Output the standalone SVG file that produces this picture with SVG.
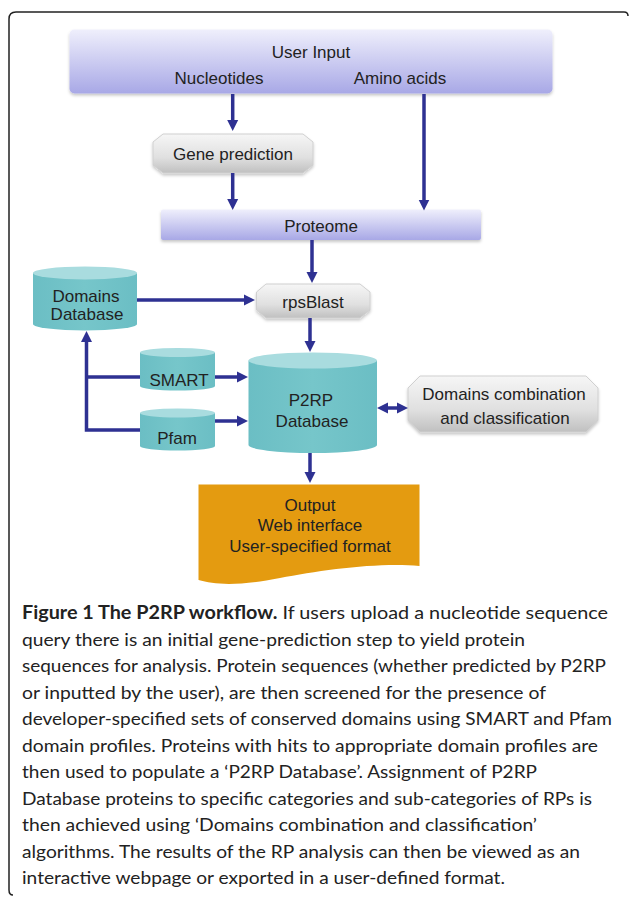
<svg xmlns="http://www.w3.org/2000/svg" width="629" height="898" viewBox="0 0 629 898">
<defs>
<style>
.lbl{font-family:"Liberation Sans",Arial,sans-serif;font-size:17px;fill:#222;text-anchor:middle}
.cap{font-family:Lato,"Open Sans",sans-serif;font-size:18px;fill:#222}
.con{fill:none;stroke:#2e3192;stroke-width:3.5}
.body{fill:url(#teal)}
.top{fill:#a9dcdf}
</style>
<linearGradient id="lav" x1="0" y1="0" x2="0" y2="1"><stop offset="0" stop-color="#efeffc"/><stop offset="1" stop-color="#a8a8e6"/></linearGradient>
<linearGradient id="gray" x1="0" y1="0" x2="0" y2="1"><stop offset="0" stop-color="#f6f6f6"/><stop offset="0.6" stop-color="#e0e0e0"/><stop offset="1" stop-color="#c0c0c0"/></linearGradient>
<linearGradient id="teal" x1="0" y1="0" x2="1" y2="0"><stop offset="0" stop-color="#6bbec4"/><stop offset="0.5" stop-color="#76c6ca"/><stop offset="1" stop-color="#6bbec4"/></linearGradient>
<filter id="sh" x="-10%" y="-20%" width="120%" height="150%"><feDropShadow dx="0" dy="2" stdDeviation="1.5" flood-color="#000" flood-opacity="0.22"/></filter>
<marker id="ah" markerUnits="userSpaceOnUse" markerWidth="12" markerHeight="12" viewBox="0 0 12 12" refX="5" refY="6" orient="auto-start-reverse"><path d="M0,0.5 L11,6 L0,11.5 z" fill="#2e3192"/></marker>
</defs>

<path id="frame" d="M13,895 Q9,895 9,890 L9,19 Q9,12 16,12 L624,12 Q628,12 628,16" fill="none" stroke="#222" stroke-width="1.5"/>

<g id="user-input">
<rect x="69.5" y="29.5" width="483" height="64" rx="5" fill="url(#lav)" filter="url(#sh)"/>
<text class="lbl" x="311" y="58">User Input</text>
<text class="lbl" x="219" y="83.5">Nucleotides</text>
<text class="lbl" x="400" y="83.5">Amino acids</text>
</g>

<g id="gene-prediction">
<path d="M163,134 L303,134 L313,142 L313,165 L303,173 L163,173 L153,165 L153,142 Z" fill="url(#gray)" stroke="#d0d0d0" stroke-width="1" stroke-linejoin="round" filter="url(#sh)"/>
<text class="lbl" x="233" y="159.5" font-size="16">Gene prediction</text>
</g>

<g id="proteome">
<rect x="161" y="209.5" width="320" height="30.5" rx="2" fill="url(#lav)" filter="url(#sh)"/>
<text class="lbl" x="321" y="231.5">Proteome</text>
</g>

<g id="rpsblast">
<path d="M266,284 L360,284 L370,292 L370,310 L360,318 L266,318 L256.5,310 L256.5,292 Z" fill="url(#gray)" stroke="#d0d0d0" stroke-width="1" stroke-linejoin="round" filter="url(#sh)"/>
<text class="lbl" x="313" y="307.5">rpsBlast</text>
</g>

<g id="domains-database">
<path class="body" d="M33,273 L33,324 A52,6.5 0 0 0 137,324 L137,273 Z"/>
<ellipse class="top" cx="85" cy="273" rx="52" ry="6.5"/>
<text class="lbl" x="86" y="302">Domains</text>
<text class="lbl" x="87" y="320">Database</text>
</g>

<g id="smart">
<path class="body" d="M140,352.5 L140,386 A37.5,4.5 0 0 0 215,386 L215,352.5 Z"/>
<ellipse class="top" cx="177.5" cy="352.5" rx="37.5" ry="4.5"/>
<text class="lbl" x="179" y="385.5">SMART</text>
</g>

<g id="pfam">
<path class="body" d="M140,413 L140,446 A37.5,4.5 0 0 0 215,446 L215,413 Z"/>
<ellipse class="top" cx="177.5" cy="413" rx="37.5" ry="4.5"/>
<text class="lbl" x="177" y="444">Pfam</text>
</g>

<g id="p2rp-database">
<path class="body" d="M248.5,360.5 L248.5,445 A64.25,8 0 0 0 377,445 L377,360.5 Z"/>
<ellipse class="top" cx="312.75" cy="360.5" rx="64.25" ry="8"/>
<text class="lbl" x="311" y="406">P2RP</text>
<text class="lbl" x="312" y="427">Database</text>
</g>

<g id="domains-combination">
<path d="M420,376 L586,376 L598,388 L598,420 L586,432 L420,432 L408,420 L408,388 Z" fill="url(#gray)" stroke="#d0d0d0" stroke-width="1" stroke-linejoin="round" filter="url(#sh)"/>
<text class="lbl" x="504" y="400" font-size="16.5">Domains combination</text>
<text class="lbl" x="505" y="424" font-size="16.5">and classification</text>
</g>

<g id="output">
<path d="M198.5,484.5 L419.5,484.5 L419.5,566 C380,562 320,570 280,578 C240,586 215,585 198.5,580 Z" fill="#e49b10"/>
<text class="lbl" x="310" y="511">Output</text>
<text class="lbl" x="310" y="531">Web interface</text>
<text class="lbl" x="310" y="552">User-specified format</text>
</g>

<g id="connectors">
<path class="con" d="M232.7,94 V125" marker-end="url(#ah)"/>
<path class="con" d="M232.7,173 V204" marker-end="url(#ah)"/>
<path class="con" d="M424,94 V204.5" marker-end="url(#ah)"/>
<path class="con" d="M312,240 V277" marker-end="url(#ah)"/>
<path class="con" d="M137,300 H249" marker-end="url(#ah)"/>
<path class="con" d="M310,318 V346" marker-end="url(#ah)"/>
<path class="con" d="M215,377 H242" marker-end="url(#ah)"/>
<path class="con" d="M215,421 H242" marker-end="url(#ah)"/>
<path class="con" d="M140,430 H86.5 V337" marker-end="url(#ah)"/>
<path class="con" d="M140,377 H86.5"/>
<path class="con" d="M383,408 H402" marker-start="url(#ah)" marker-end="url(#ah)"/>
<path class="con" d="M310,453 V477" marker-end="url(#ah)"/>
</g>

<g id="caption">
<text class="cap" x="22" y="619.3" textLength="586" lengthAdjust="spacingAndGlyphs"><tspan font-weight="bold">Figure 1 The P2RP workflow.</tspan> If users upload a nucleotide sequence</text>
<text class="cap" x="22" y="645.8" textLength="503" lengthAdjust="spacingAndGlyphs">query there is an initial gene-prediction step to yield protein</text>
<text class="cap" x="22" y="672.3" textLength="584" lengthAdjust="spacingAndGlyphs">sequences for analysis. Protein sequences (whether predicted by P2RP</text>
<text class="cap" x="22" y="698.8" textLength="524" lengthAdjust="spacingAndGlyphs">or inputted by the user), are then screened for the presence of</text>
<text class="cap" x="22" y="725.3" textLength="590" lengthAdjust="spacingAndGlyphs">developer-specified sets of conserved domains using SMART and Pfam</text>
<text class="cap" x="22" y="751.8" textLength="576" lengthAdjust="spacingAndGlyphs">domain profiles. Proteins with hits to appropriate domain profiles are</text>
<text class="cap" x="22" y="778.3" textLength="515" lengthAdjust="spacingAndGlyphs">then used to populate a ‘P2RP Database’. Assignment of P2RP</text>
<text class="cap" x="22" y="804.8" textLength="570" lengthAdjust="spacingAndGlyphs">Database proteins to specific categories and sub-categories of RPs is</text>
<text class="cap" x="22" y="831.3" textLength="515" lengthAdjust="spacingAndGlyphs">then achieved using ‘Domains combination and classification’</text>
<text class="cap" x="22" y="857.8" textLength="558" lengthAdjust="spacingAndGlyphs">algorithms. The results of the RP analysis can then be viewed as an</text>
<text class="cap" x="22" y="884.3" textLength="483" lengthAdjust="spacingAndGlyphs">interactive webpage or exported in a user-defined format.</text>
</g>
</svg>
